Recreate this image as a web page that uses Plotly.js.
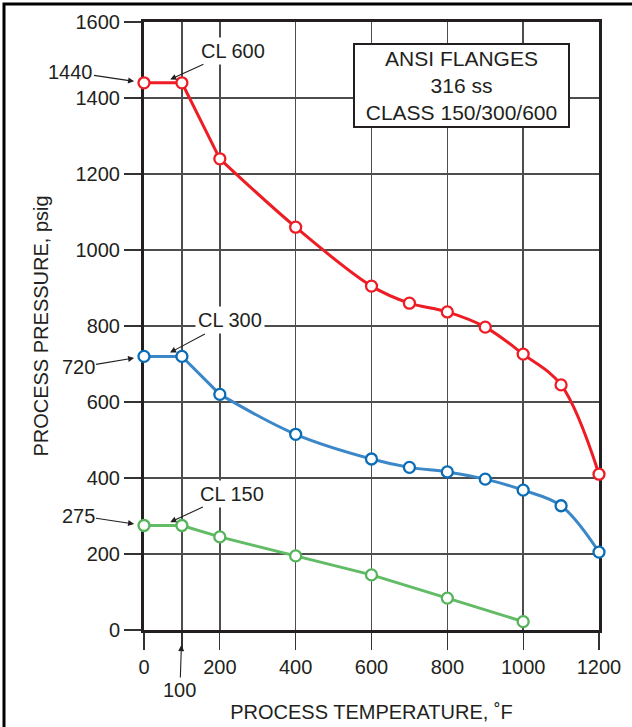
<!DOCTYPE html>
<html><head><meta charset="utf-8">
<script src="https://cdn.plot.ly/plotly-3.0.1.min.js"></script>
<style>html,body{margin:0;padding:0;background:#fff}</style>
</head><body><div id="chart" style="width:632px;height:727px"></div>
<script>
// ---- data ----
const temps600 = [0, 100, 200, 400, 600, 700, 800, 900, 1000, 1100, 1200];
const press600 = [1440, 1440, 1240, 1060, 905, 860, 837, 797, 726, 645, 410];
const temps300 = [0, 100, 200, 400, 600, 700, 800, 900, 1000, 1100, 1200];
const press300 = [720, 720, 620, 515, 450, 428, 416, 397, 368, 327, 205];
const temps150 = [0, 100, 200, 400, 600, 800, 1000];
const press150 = [275, 275, 245, 195, 145, 84, 22];
const xTickVals = [0, 100, 200, 400, 600, 800, 1000, 1200];
const xTickText = ['0', '', '200', '400', '600', '800', '1000', '1200'];
const yTickVals = [0, 200, 400, 600, 800, 1000, 1200, 1400, 1600];
const classLabels = ['CL 600', 'CL 300', 'CL 150'];
const startLabels = ['1440', '720', '275'];
const boxLines = ['ANSI FLANGES', '316 ss', 'CLASS 150/300/600'];
const xTitle = 'PROCESS TEMPERATURE, ˚F';
const yTitle = 'PROCESS PRESSURE, psig';

const FONT = '"Liberation Sans", Arial, Helvetica, sans-serif';
const INK = '#231f20';

function seriesTraces(xs, ys, lineColor, markerColor, smooth) {
  const out = [];
  if (smooth) {
    out.push({x: xs.slice(0, 3), y: ys.slice(0, 3), mode: 'lines', cliponaxis: false,
      line: {color: lineColor, width: 3}, hoverinfo: 'skip'});
    out.push({x: xs.slice(2), y: ys.slice(2), mode: 'lines', cliponaxis: false,
      line: {color: lineColor, width: 3, shape: 'spline', smoothing: 1}, hoverinfo: 'skip'});
  } else {
    out.push({x: xs, y: ys, mode: 'lines', cliponaxis: false,
      line: {color: lineColor, width: 3}, hoverinfo: 'skip'});
  }
  out.push({x: xs, y: ys, mode: 'markers', cliponaxis: false,
    marker: {symbol: 'circle', size: 11, color: '#ffffff', line: {color: markerColor, width: 2.3}}});
  return out;
}

const traces = [].concat(
  seriesTraces(temps600, press600, '#ee1d25', '#ee1d25', true),
  seriesTraces(temps300, press300, '#3b87c7', '#0a6db6', true),
  seriesTraces(temps150, press150, '#62bb66', '#55b45b', false)
);

const arrow = {showarrow: true, arrowhead: 2, arrowsize: 1.1, arrowwidth: 1.1, arrowcolor: INK};
const tfont = {family: FONT, size: 20, color: INK};

const series = [[temps600, press600], [temps300, press300], [temps150, press150]];
const startOffsets = [[-74, -11], [-66, 11], [-66, -10]];
const clOffsets = [[70, -32], [67, -36], [69, -32]];
const annotations = [];
series.forEach(([xs, ys], i) => {
  annotations.push(Object.assign({x: xs[0], y: ys[0], xref: 'x', yref: 'y', text: startLabels[i],
    ax: startOffsets[i][0], ay: startOffsets[i][1], standoff: 10, font: tfont}, arrow));
  annotations.push(Object.assign({x: (xs[0] + xs[1]) / 2, y: ys[0], xref: 'x', yref: 'y', text: classLabels[i],
    ax: clOffsets[i][0], ay: clOffsets[i][1], standoff: 8, font: tfont, bgcolor: '#ffffff', borderpad: 2}, arrow));
});
annotations.push(Object.assign({x: xTickVals[1], y: 0, xref: 'x', yref: 'paper', text: String(xTickVals[1]),
  ax: -2, ay: 60, standoff: 15, font: tfont}, arrow));
annotations.push({x: 0.697, y: 0.896, xref: 'paper', yref: 'paper', xanchor: 'center', yanchor: 'middle',
  text: boxLines.join('<br>'), showarrow: false, font: {family: FONT, size: 21, color: INK}, align: 'center',
  width: 213, height: 81, borderpad: 0, borderwidth: 2, bordercolor: INK, bgcolor: '#ffffff'});

const axisCommon = {
  ticks: 'outside', ticklen: 17, tickwidth: 1.2, tickcolor: '#333333',
  showgrid: true, gridcolor: '#4d4d4d', gridwidth: 1.6,
  showline: true, linecolor: INK, linewidth: 3, mirror: true,
  zeroline: false, layer: 'below traces', fixedrange: true,
  tickfont: {family: FONT, size: 20, color: INK}
};

const layout = {
  width: 632, height: 727,
  margin: {l: 144, r: 33, t: 22, b: 97},
  showlegend: false,
  paper_bgcolor: '#ffffff', plot_bgcolor: '#ffffff',
  font: {family: FONT, size: 20, color: INK},
  xaxis: Object.assign({}, axisCommon, {range: [0, 1200], tickvals: xTickVals, ticktext: xTickText,
    title: {text: xTitle, font: {family: FONT, size: 20, color: INK}, standoff: 28}}),
  yaxis: Object.assign({}, axisCommon, {range: [0, 1600], tickvals: yTickVals,
    title: {text: yTitle, font: {family: FONT, size: 20, color: INK}, standoff: 22}}),
  annotations: annotations,
  shapes: [{type: 'rect', xref: 'paper', yref: 'paper', x0: -0.3077, x1: 1.12, y0: -0.25, y1: 1.0296,
    line: {color: '#000000', width: 3}, fillcolor: 'rgba(0,0,0,0)', layer: 'above'}]
};

Plotly.newPlot('chart', traces, layout, {displayModeBar: false, staticPlot: true});
</script></body></html>
